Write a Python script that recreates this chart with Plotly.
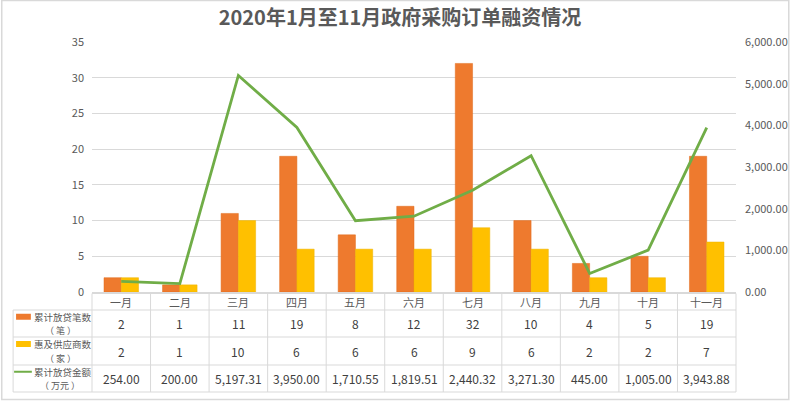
import plotly.graph_objects as go

months = ["一月", "二月", "三月", "四月", "五月", "六月", "七月", "八月", "九月", "十月", "十一月"]
loans = [2, 1, 11, 19, 8, 12, 32, 10, 4, 5, 19]
suppliers = [2, 1, 10, 6, 6, 6, 9, 6, 2, 2, 7]
amounts = [254.00, 200.00, 5197.31, 3950.00, 1710.55, 1819.51, 2440.32, 3271.30, 445.00, 1005.00, 3943.88]
series_names = [("累计放贷笔数", "（ 笔 ）"), ("惠及供应商数", "（ 家 ）"), ("累计放贷金额", "（ 万元 ）")]

W, H = 800, 401
L, R, T, B = 92, 745, 42, 292
ORANGE = "#EE7A2E"
YELLOW = "#FFC000"
GREEN = "#70AD47"
GRID = "#D9D9D9"
TXT = "#595959"
FONT = "Noto Sans CJK SC"


def px(x):
    return (x - L) / (R - L)


def py(y):
    return (B - y) / (B - T)


fig = go.Figure()
fig.add_trace(go.Bar(x=months, y=loans, name="累计放贷笔数", marker=dict(color=ORANGE, line=dict(color="#E06A1A", width=0.5))))
fig.add_trace(go.Bar(x=months, y=suppliers, name="惠及供应商数", marker=dict(color=YELLOW, line=dict(color="#EDB400", width=0.5))))
fig.add_trace(go.Scatter(x=months, y=amounts, name="累计放贷金额", yaxis="y2", mode="lines",
                         line=dict(color=GREEN, width=2.8)))

shapes = []
annotations = []

# outer frame
shapes.append(dict(type="rect", xref="paper", yref="paper", x0=px(0.5), x1=px(W - 1.5), y0=py(0.5), y1=py(H - 1.5),
                   line=dict(color=GRID, width=1.5), fillcolor="rgba(0,0,0,0)", layer="below"))

# table geometry (pixel rows)
rows = [292, 310, 337, 365, 392]
left_col = 12
shapes.append(dict(type="line", xref="paper", yref="paper", x0=px(L), x1=px(R), y0=py(rows[0] + 1.5), y1=py(rows[0] + 1.5),
                   line=dict(color=GRID, width=1)))
for r in rows[1:]:
    shapes.append(dict(type="line", xref="paper", yref="paper", x0=px(left_col), x1=px(R), y0=py(r), y1=py(r),
                       line=dict(color=GRID, width=1)))
cw = (R - L) / len(months)
for i in range(len(months) + 1):
    xx = L + i * cw
    shapes.append(dict(type="line", xref="paper", yref="paper", x0=px(xx), x1=px(xx), y0=py(rows[0] + 1.5), y1=py(rows[-1]),
                       line=dict(color=GRID, width=1)))
shapes.append(dict(type="line", xref="paper", yref="paper", x0=px(left_col), x1=px(left_col), y0=py(rows[1]), y1=py(rows[-1]),
                   line=dict(color=GRID, width=1)))

# header labels
for m in months:
    annotations.append(dict(x=m, xref="x", y=py((rows[0] + rows[1]) / 2 + 1), yref="paper", text=m, showarrow=False,
                            font=dict(size=11, color=TXT, family=FONT), xanchor="center", yanchor="middle"))


def fmt_amt(v):
    return f"{v:,.2f}"


data_rows = [[str(v) for v in loans], [str(v) for v in suppliers], [fmt_amt(v) for v in amounts]]
for ri, vals in enumerate(data_rows):
    yc = (rows[ri + 1] + rows[ri + 2]) / 2
    for m, v in zip(months, vals):
        annotations.append(dict(x=m, xref="x", y=py(yc), yref="paper", text=v, showarrow=False,
                                font=dict(size=12, color="#404040", family=FONT), xanchor="center", yanchor="middle"))

# legend keys in table
key_colors = [ORANGE, YELLOW, GREEN]
for ri, ((n1, n2), c) in enumerate(zip(series_names, key_colors)):
    top = rows[ri + 1]
    bot = rows[ri + 2]
    h = bot - top
    yc1 = top + h / 4
    yc2 = top + 3 * h / 4
    if ri < 2:
        shapes.append(dict(type="rect", xref="paper", yref="paper", x0=px(15), x1=px(30), y0=py(yc1 + 3), y1=py(yc1 - 3),
                           fillcolor=c, line=dict(width=0)))
    else:
        shapes.append(dict(type="line", xref="paper", yref="paper", x0=px(13), x1=px(31), y0=py(yc1), y1=py(yc1),
                           line=dict(color=c, width=2)))
    annotations.append(dict(x=px(32), xref="paper", y=py(yc1), yref="paper", text=n1, showarrow=False, borderpad=0,
                            font=dict(size=9.5, color=TXT, family=FONT), xanchor="left", yanchor="middle"))
    annotations.append(dict(x=px(60), xref="paper", y=py(yc2), yref="paper", text=n2, showarrow=False, borderpad=0,
                            font=dict(size=9, color=TXT, family=FONT), xanchor="center", yanchor="middle"))

fig.update_layout(
    width=W, height=H,
    margin=dict(l=L, r=W - R, t=T, b=H - B, pad=0),
    paper_bgcolor="white", plot_bgcolor="white",
    showlegend=False,
    barmode="group", bargap=0.41, bargroupgap=0,
    title=dict(text="<b>2020年1月至11月政府采购订单融资情况</b>", x=0.5, xanchor="center", y=1 - 18 / H, yanchor="middle",
               font=dict(size=20, color=TXT, family=FONT)),
    font=dict(family=FONT, color=TXT, size=11),
    xaxis=dict(showticklabels=False, showgrid=False, showline=True, linecolor=GRID, linewidth=1, ticks="",
               categoryorder="array", categoryarray=months),
    yaxis=dict(range=[0, 35], dtick=5, showgrid=True, gridcolor=GRID, gridwidth=1, zeroline=False, showline=False,
               ticks="", tickfont=dict(size=11, color=TXT, family=FONT), ticklabelstandoff=7),
    yaxis2=dict(range=[0, 6000], dtick=1000, overlaying="y", side="right", showgrid=False, zeroline=False,
                showline=False, ticks="", tickformat=",.2f", tickfont=dict(size=11, color=TXT, family=FONT),
                ticklabelstandoff=8),
    shapes=shapes,
    annotations=annotations,
)

fig.write_html("out.html")
